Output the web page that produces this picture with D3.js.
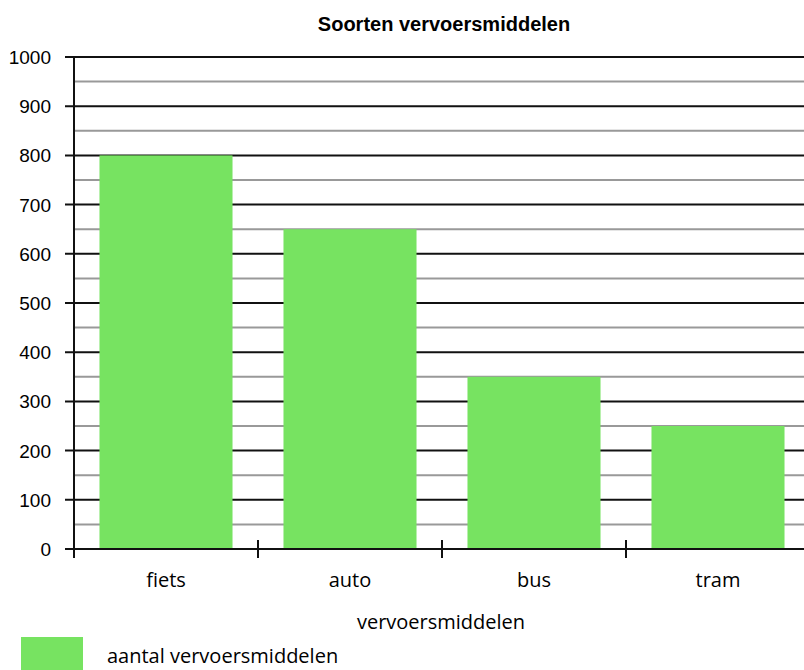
<!DOCTYPE html>
<html>
<head>
<meta charset="utf-8">
<script src="https://d3js.org/d3.v7.min.js"></script>
<style>
body { margin: 0; background: #fff; }
svg { display: block; }
</style>
</head>
<body>
<div id="chart"></div>
<script>
// data
var categories = ["fiets", "auto", "bus", "tram"];
var values = [800, 650, 350, 250];
var majorTicks = [0, 100, 200, 300, 400, 500, 600, 700, 800, 900, 1000];
var minorTicks = [50, 150, 250, 350, 450, 550, 650, 750, 850, 950];

var width = 804, height = 670;
var plotLeft = 74, plotRight = 810, plotTop = 57, plotBottom = 549;
var green = "#77e361";

var svg = d3.select("#chart").append("svg")
    .attr("width", width)
    .attr("height", height);

var x = d3.scaleBand()
    .domain(categories)
    .range([plotLeft, plotRight])
    .paddingInner(0.277)
    .paddingOuter(0.1385);

var y = d3.scaleLinear()
    .domain([0, 1000])
    .range([plotBottom, plotTop]);

// title
svg.append("text")
    .attr("x", 444).attr("y", 31)
    .attr("text-anchor", "middle")
    .style("font-family", "'Liberation Sans', Arial, sans-serif")
    .style("font-weight", "bold")
    .style("font-size", "20px")
    .text("Soorten vervoersmiddelen");

// gridlines
svg.append("g").selectAll("line")
    .data(minorTicks)
    .enter().append("line")
    .attr("x1", plotLeft).attr("x2", width)
    .attr("y1", function(d) { return y(d); })
    .attr("y2", function(d) { return y(d); })
    .attr("stroke", "#999")
    .attr("stroke-width", 2);

svg.append("g").selectAll("line")
    .data(majorTicks)
    .enter().append("line")
    .attr("x1", plotLeft - 9).attr("x2", width)
    .attr("y1", function(d) { return y(d); })
    .attr("y2", function(d) { return y(d); })
    .attr("stroke", "#111")
    .attr("stroke-width", 2);

// bars
svg.append("g").selectAll("rect")
    .data(categories)
    .enter().append("rect")
    .attr("x", function(d) { return x(d); })
    .attr("width", x.bandwidth())
    .attr("y", function(d, i) { return y(values[i]); })
    .attr("height", function(d, i) { return y(0) - y(values[i]); })
    .attr("fill", green);

// x axis line redrawn over bars
svg.append("line")
    .attr("x1", plotLeft - 9).attr("x2", width)
    .attr("y1", y(0)).attr("y2", y(0))
    .attr("stroke", "#111").attr("stroke-width", 2);

// y axis line
svg.append("line")
    .attr("x1", plotLeft).attr("x2", plotLeft)
    .attr("y1", y(1000)).attr("y2", y(0) + 9)
    .attr("stroke", "#111").attr("stroke-width", 2);

// category separators
svg.append("g").selectAll("line")
    .data(categories.slice(1))
    .enter().append("line")
    .attr("x1", function(d) { return x(d) - x.step() * x.paddingInner() / 2; })
    .attr("x2", function(d) { return x(d) - x.step() * x.paddingInner() / 2; })
    .attr("y1", y(0) - 9).attr("y2", y(0) + 9)
    .attr("stroke", "#111").attr("stroke-width", 2);

// y tick labels
svg.append("g").selectAll("text")
    .data(majorTicks)
    .enter().append("text")
    .attr("x", 51)
    .attr("y", function(d) { return y(d) + 7; })
    .attr("text-anchor", "end")
    .style("font-family", "'Liberation Sans', Arial, sans-serif")
    .style("font-size", "19px")
    .text(function(d) { return d; });

// x tick labels
svg.append("g").selectAll("text")
    .data(categories)
    .enter().append("text")
    .attr("x", function(d) { return x(d) + x.bandwidth() / 2; })
    .attr("y", 587)
    .attr("text-anchor", "middle")
    .style("font-family", "'Open Sans', sans-serif")
    .style("font-size", "20px")
    .text(function(d) { return d; });

// x axis title
svg.append("text")
    .attr("x", 441).attr("y", 629)
    .attr("text-anchor", "middle")
    .style("font-family", "'Open Sans', sans-serif")
    .style("font-size", "20px")
    .text("vervoersmiddelen");

// legend
svg.append("rect")
    .attr("x", 21).attr("y", 637)
    .attr("width", 62).attr("height", 33)
    .attr("fill", green);

svg.append("text")
    .attr("x", 107).attr("y", 663)
    .style("font-family", "'Open Sans', sans-serif")
    .style("font-size", "20px")
    .text("aantal vervoersmiddelen");
</script>
</body>
</html>
